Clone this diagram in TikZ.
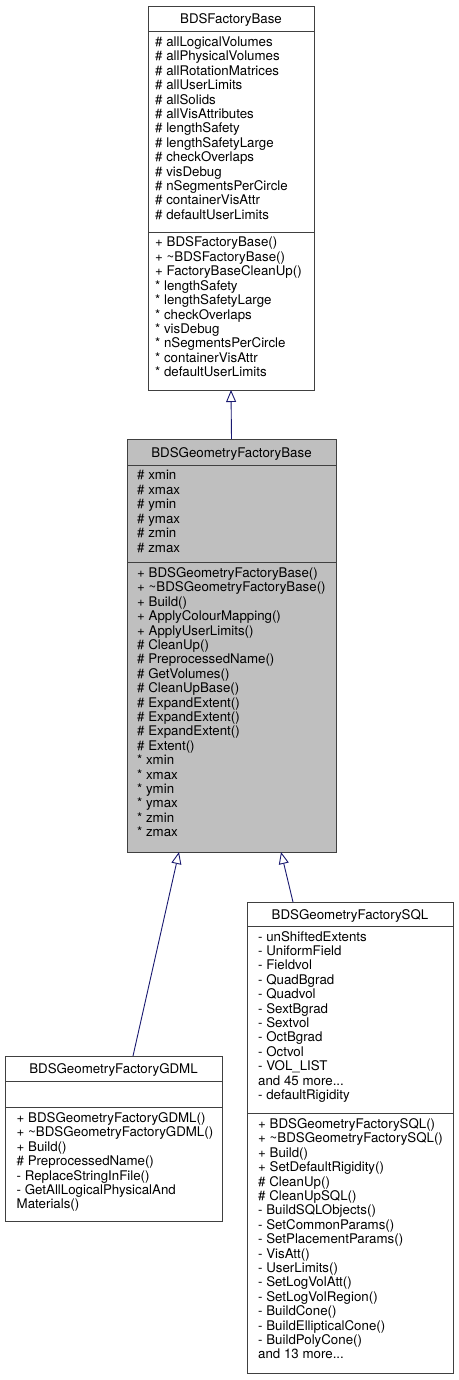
\documentclass[tikz,border=0pt]{standalone}
\usepackage{fontspec}
\setmainfont{TeX Gyre Heros}
\usetikzlibrary{arrows.meta}
\definecolor{edgeblue}{HTML}{191970}
\definecolor{boxgray}{HTML}{BFBFBF}
\definecolor{boxline}{HTML}{404040}
\newcommand\threedots{...}
\tikzset{
  classbox/.style={draw=boxline, line width=0.9pt, anchor=north west, inner sep=0, outer sep=0},
  sepline/.style={draw=boxline, line width=0.9pt},
  txt/.style={anchor=base west, inner sep=0, font=\fontsize{13.3}{14.4}\selectfont},
  ttl/.style={anchor=base, inner sep=0, font=\fontsize{13.3}{14.4}\selectfont},
  inh/.style={draw=edgeblue, line width=0.9pt, -{Triangle[open, length=12pt, width=10pt, fill=white]}}
}
\begin{document}
\begin{tikzpicture}[x=1pt,y=-1pt]
\useasboundingbox (0,0) rectangle (458,1380);
% BDSFactoryBase
\node[classbox, minimum width=166pt, minimum height=384pt] (fb) at (148,6) {};
\draw[sepline] (148,31) -- (314,31);
\draw[sepline] (148,232) -- (314,232);
\node[ttl] (fbt) at (231,23.5) {BDSFactoryBase};
\foreach [count=\i from 0] \t in {{\# allLogicalVolumes},{\# allPhysicalVolumes},{\# allRotationMatrices},{\# allUserLimits},{\# allSolids},{\# allVisAttributes},{\# lengthSafety},{\# lengthSafetyLarge},{\# checkOverlaps},{\# visDebug},{\# nSegmentsPerCircle},{\# containerVisAttr},{\# defaultUserLimits}}
  \node[txt] (fba\i) at (155,46.5+\i*14.4) {\t};
\foreach [count=\i from 0] \t in {{+ BDSFactoryBase()},{+ \textasciitilde BDSFactoryBase()},{+ FactoryBaseCleanUp()},{* lengthSafety},{* lengthSafetyLarge},{* checkOverlaps},{* visDebug},{* nSegmentsPerCircle},{* containerVisAttr},{* defaultUserLimits}}
  \node[txt] (fbm\i) at (155,247+\i*14.4) {\t};
% BDSGeometryFactoryBase
\node[classbox, fill=boxgray, minimum width=209pt, minimum height=413pt] (gb) at (127,439) {};
\draw[sepline] (127,465) -- (336,465);
\draw[sepline] (127,562) -- (336,562);
\node[ttl] (gbt) at (231.5,457) {BDSGeometryFactoryBase};
\foreach [count=\i from 0] \t in {{\# xmin},{\# xmax},{\# ymin},{\# ymax},{\# zmin},{\# zmax}}
  \node[txt] (gba\i) at (137,479.5+\i*14.6) {\t};
\foreach [count=\i from 0] \t in {{+ BDSGeometryFactoryBase()},{+ \textasciitilde BDSGeometryFactoryBase()},{+ Build()},{+ ApplyColourMapping()},{+ ApplyUserLimits()},{\# CleanUp()},{\# PreprocessedName()},{\# GetVolumes()},{\# CleanUpBase()},{\# ExpandExtent()},{\# ExpandExtent()},{\# ExpandExtent()},{\# Extent()},{* xmin},{* xmax},{* ymin},{* ymax},{* zmin},{* zmax}}
  \node[txt] (gbm\i) at (137,577.5+\i*14.4) {\t};
% BDSGeometryFactoryGDML
\node[classbox, minimum width=217pt, minimum height=165pt] (gd) at (5,1056) {};
\draw[sepline] (5,1081) -- (222,1081);
\draw[sepline] (5,1107) -- (222,1107);
\node[ttl] (gdt) at (113.5,1073.5) {BDSGeometryFactoryGDML};
\foreach [count=\i from 0] \t in {{+ BDSGeometryFactoryGDML()},{+ \textasciitilde BDSGeometryFactoryGDML()},{+ Build()},{\# PreprocessedName()},{- ReplaceStringInFile()},{- GetAllLogicalPhysicalAnd},{Materials()}}
  \node[txt] (gdm\i) at (16.5,1122.5+\i*14.4) {\t};
% BDSGeometryFactorySQL
\node[classbox, minimum width=206pt, minimum height=471pt] (sq) at (247,902) {};
\draw[sepline] (247,926) -- (453,926);
\draw[sepline] (247,1113) -- (453,1113);
\node[ttl] (sqt) at (350,919) {BDSGeometryFactorySQL};
\foreach [count=\i from 0] \t in {{- unShiftedExtents},{- UniformField},{- Fieldvol},{- QuadBgrad},{- Quadvol},{- SextBgrad},{- Sextvol},{- OctBgrad},{- Octvol},{- VOL\_LIST},{and 45 more\threedots},{- defaultRigidity}}
  \node[txt] (sqa\i) at (258,941+\i*14.4) {\t};
\foreach [count=\i from 0] \t in {{+ BDSGeometryFactorySQL()},{+ \textasciitilde BDSGeometryFactorySQL()},{+ Build()},{+ SetDefaultRigidity()},{\# CleanUp()},{\# CleanUpSQL()},{- BuildSQLObjects()},{- SetCommonParams()},{- SetPlacementParams()},{- VisAtt()},{- UserLimits()},{- SetLogVolAtt()},{- SetLogVolRegion()},{- BuildCone()},{- BuildEllipticalCone()},{- BuildPolyCone()},{and 13 more\threedots}}
  \node[txt] (sqm\i) at (258,1128.5+\i*14.4) {\t};
% inheritance
\draw[inh] (gb.north) -- (fb.south);
\draw[inh] ([xshift=19.5pt]gd.north) -- ([xshift=-52.5pt]gb.south);
\draw[inh] ([xshift=-57pt]sq.north) -- ([xshift=49.5pt]gb.south);
\end{tikzpicture}
\end{document}
